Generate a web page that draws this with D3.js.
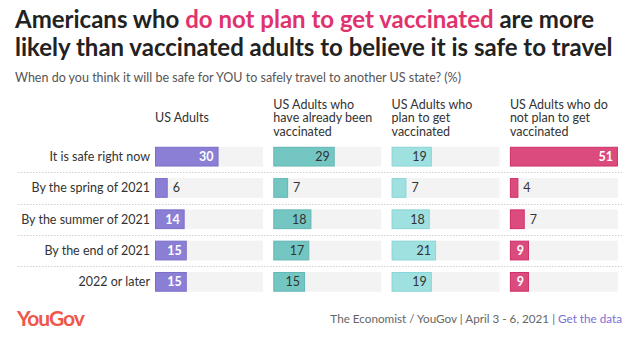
<!DOCTYPE html>
<html>
<head>
<meta charset="utf-8">
<script src="https://cdn.jsdelivr.net/npm/d3@7"></script>
<style>
  html, body { margin: 0; padding: 0; background: #fff; }
  svg { display: block; font-family: Lato, "Open Sans", sans-serif; }
</style>
</head>
<body>
<svg id="chart" width="640" height="343"></svg>
<script>
// Answer categories (rows)
const categories = [
  "It is safe right now",
  "By the spring of 2021",
  "By the summer of 2021",
  "By the end of 2021",
  "2022 or later"
];

// Group headers (one panel per group), split into lines
const groupHeaders = [
  ["US Adults"],
  ["US Adults who", "have already been", "vaccinated"],
  ["US Adults who", "plan to get", "vaccinated"],
  ["US Adults who do", "not plan to get", "vaccinated"]
];

// Percentages per group, in row order
const usAdults      = [30, 6, 14, 15, 15];
const vaccinated    = [29, 7, 18, 17, 15];
const planToGet     = [19, 7, 18, 21, 19];
const notPlanToGet  = [51, 4, 7, 9, 9];

const groupValues = [usAdults, vaccinated, planToGet, notPlanToGet];
const groupColors = ["#8a7fd5", "#74c6c3", "#9fe0e0", "#dc4b7e"];
const groupStroke = ["#7a6ecb", "#62b8b4", "#8ad6d6", "#d02f69"];
const labelInside = ["#ffffff", "#333333", "#333333", "#ffffff"];

const svg = d3.select("#chart");

// Title
const titleSize = 24;
const title = svg.append("text")
  .attr("x", 15).attr("y", 28)
  .attr("font-size", titleSize).attr("font-weight", 700).attr("fill", "#222");
title.append("tspan").text("Americans who ");
title.append("tspan").attr("fill", "#e0336e").text("do not plan to get vaccinated");
title.append("tspan").text(" are more");
svg.append("text")
  .attr("x", 15).attr("y", 56)
  .attr("font-size", titleSize).attr("font-weight", 700).attr("fill", "#222")
  .text("likely than vaccinated adults to believe it is safe to travel");

svg.append("text")
  .attr("x", 15).attr("y", 82)
  .attr("font-size", 12.5).attr("fill", "#555")
  .text("When do you think it will be safe for YOU to safely travel to another US state? (%)");

// Layout scales
const panelStart = 155, panelWidth = 108, panelGap = 10.3;
const y = d3.scaleBand()
  .domain(categories)
  .range([141, 297.5])
  .paddingInner(0.37)
  .paddingOuter(0.185);

const x = d3.scaleLinear()
  .domain([0, d3.max(groupValues.flat())])
  .range([0, panelWidth]);

// Dotted row separators
const seps = categories.slice(1);
svg.selectAll("line.sep")
  .data(seps)
  .join("line")
  .attr("class", "sep")
  .attr("x1", 18).attr("x2", 622)
  .attr("y1", d => Math.round(y(d) - y.step() * y.paddingInner() / 2) + 0.5)
  .attr("y2", d => Math.round(y(d) - y.step() * y.paddingInner() / 2) + 0.5)
  .attr("stroke", "#cfcfcf")
  .attr("stroke-width", 1)
  .attr("stroke-dasharray", "1.5,1.5");

// Row labels
svg.selectAll("text.rowlab")
  .data(categories)
  .join("text")
  .attr("class", "rowlab")
  .attr("x", 150)
  .attr("y", d => y(d) + y.bandwidth() / 2)
  .attr("dy", "0.35em")
  .attr("text-anchor", "end")
  .attr("font-size", 12.5)
  .attr("fill", "#333")
  .text(d => d);

// Panels
groupValues.forEach((vals, gi) => {
  const x0 = panelStart + gi * (panelWidth + panelGap);
  const g = svg.append("g").attr("transform", `translate(${x0},0)`);

  // header, vertically centred on the three-line block
  const lines = groupHeaders[gi];
  const lh = 13.5, mid = 118;
  g.selectAll("text.head")
    .data(lines)
    .join("text")
    .attr("class", "head")
    .attr("x", 0)
    .attr("y", (d, i) => mid + (i - (lines.length - 1) / 2) * lh)
    .attr("dy", "0.35em")
    .attr("font-size", 12.5)
    .attr("fill", "#333")
    .text(d => d);

  // background tracks
  g.selectAll("rect.bg")
    .data(categories)
    .join("rect")
    .attr("class", "bg")
    .attr("x", 0)
    .attr("y", d => y(d))
    .attr("width", panelWidth)
    .attr("height", y.bandwidth())
    .attr("fill", "#f3f3f3");

  const rows = categories.map((c, i) => ({ c, v: vals[i] }));

  g.selectAll("rect.bar")
    .data(rows)
    .join("rect")
    .attr("class", "bar")
    .attr("x", 0.5)
    .attr("y", d => y(d.c) + 0.5)
    .attr("width", d => x(d.v) - 1)
    .attr("height", y.bandwidth() - 1)
    .attr("fill", groupColors[gi])
    .attr("stroke", groupStroke[gi])
    .attr("stroke-width", 1);

  g.selectAll("text.val")
    .data(rows)
    .join("text")
    .attr("class", "val")
    .attr("y", d => y(d.c) + y.bandwidth() / 2)
    .attr("dy", "0.36em")
    .attr("font-size", 12.5)
    .each(function (d) {
      const inside = x(d.v) >= 18;
      d3.select(this)
        .attr("x", inside ? x(d.v) - 5 : x(d.v) + 5)
        .attr("text-anchor", inside ? "end" : "start")
        .attr("fill", inside ? labelInside[gi] : "#333")
        .attr("font-weight", inside && labelInside[gi] === "#ffffff" ? 700 : 400)
        .text(d.v);
    });
});

// Footer
svg.append("text")
  .attr("x", 17).attr("y", 326)
  .attr("font-size", 21).attr("font-weight", 700)
  .attr("fill", "#f0564a")
  .attr("letter-spacing", -1)
  .text("YouGov");

const foot = svg.append("text")
  .attr("x", 622).attr("y", 323)
  .attr("text-anchor", "end")
  .attr("font-size", 11.7)
  .attr("fill", "#666");
foot.append("tspan").text("The Economist / YouGov | April 3 - 6, 2021 | ");
foot.append("tspan").attr("fill", "#7b6fd6").text("Get the data");
</script>
</body>
</html>
